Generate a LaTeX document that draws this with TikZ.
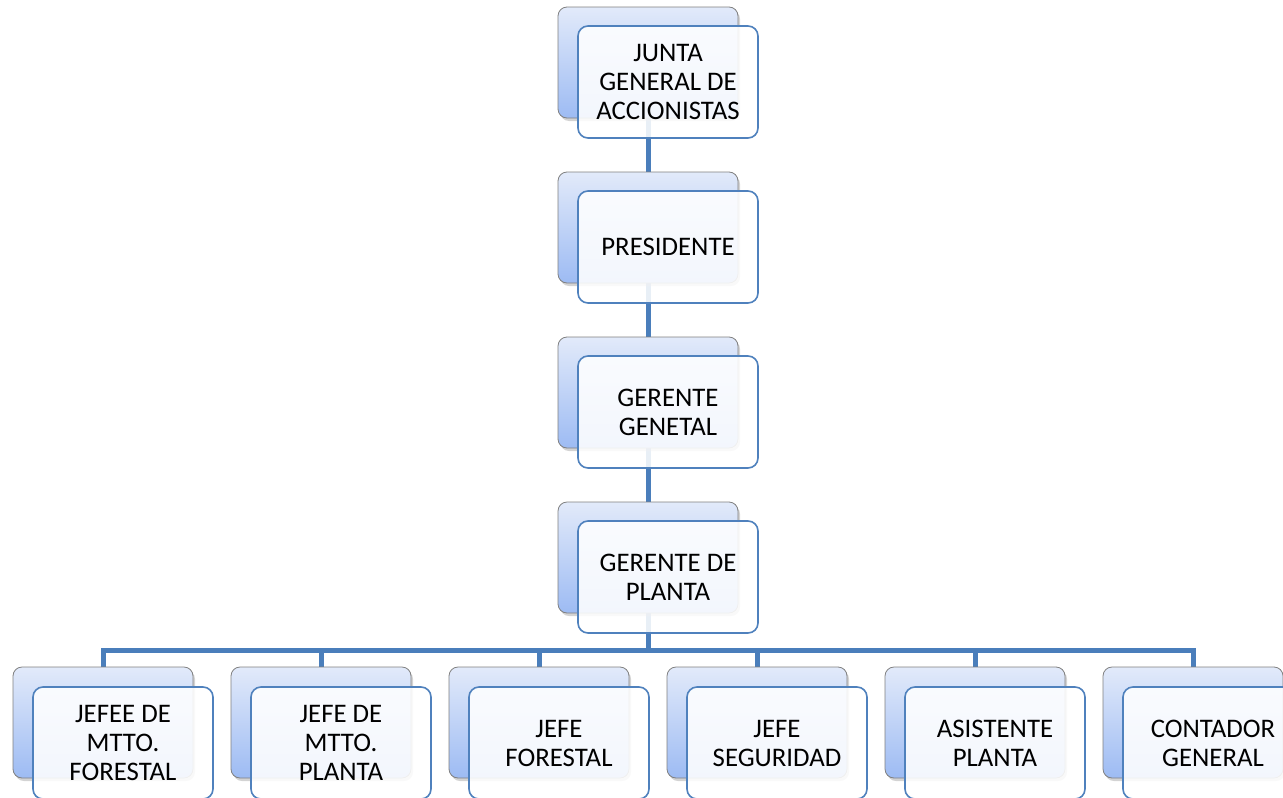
\documentclass[tikz,border=0pt]{standalone}
\usepackage{fontspec}
\setmainfont{Carlito}
\usetikzlibrary{shadows,backgrounds}
\definecolor{linkblue}{HTML}{4A7EBB}
\definecolor{frameblue}{HTML}{4F81BD}
\definecolor{backtop}{HTML}{E2EAFA}
\definecolor{backbot}{HTML}{9DBBF3}
\begin{document}
\begin{tikzpicture}[x=1pt,y=-1pt,
  backbox/.style={draw=black!50, line width=0.8pt, rounded corners=9pt,
    top color=backtop, bottom color=backbot, minimum width=180pt, minimum height=111pt,
    inner sep=0pt, drop shadow={shadow xshift=2pt, shadow yshift=-3pt, opacity=0.35}},
  frontbox/.style={draw=frameblue, line width=1.6pt, rounded corners=10pt,
    fill=white, fill opacity=0.88, text opacity=1, minimum width=180pt, minimum height=112pt,
    inner sep=0pt, align=center, font=\fontsize{26.8}{29}\selectfont},
  link/.style={draw=linkblue, line width=5pt}]
\useasboundingbox (0,0) rectangle (1283,798);
\clip (0,0) rectangle (1283,798);

% chain of command, top to bottom
\node[backbox] (b1) at (648,62.5) {};
\node[frontbox] (f1) at (668,82) {JUNTA\\GENERAL DE\\ACCIONISTAS};
\node[backbox] (b2) at (648,227.5) {};
\node[frontbox] (f2) at (668,247) {PRESIDENTE};
\node[backbox] (b3) at (648,392.5) {};
\node[frontbox] (f3) at (668,412) {GERENTE\\GENETAL};
\node[backbox] (b4) at (648,557.5) {};
\node[frontbox] (f4) at (668,577) {GERENTE DE\\PLANTA};

% department heads
\foreach \i/\txt in {0/{JEFEE DE\\MTTO.\\FORESTAL},1/{JEFE DE\\MTTO.\\PLANTA},
                     2/{JEFE\\FORESTAL},3/{JEFE\\SEGURIDAD},
                     4/{ASISTENTE\\PLANTA},5/{CONTADOR\\GENERAL}}{
  \node[backbox] (c\i) at (103+218*\i,722.5) {};
  \node[frontbox] (d\i) at (123+218*\i,743) {\txt};
}

% connectors behind the boxes
\begin{pgfonlayer}{background}
  \draw[link] (b1.south) -- (b2.north);
  \draw[link] (b2.south) -- (b3.north);
  \draw[link] (b3.south) -- (b4.north);
  \coordinate (bus) at (648,650);
  \draw[link] (b4.south) -- (bus);
  \draw[link, line cap=rect] (c0.north) |- (bus) -| (c5.north);
  \foreach \i in {1,...,4}{
    \draw[link] (c\i.north) -- (c\i.north |- bus);
  }
\end{pgfonlayer}
\end{tikzpicture}
\end{document}
